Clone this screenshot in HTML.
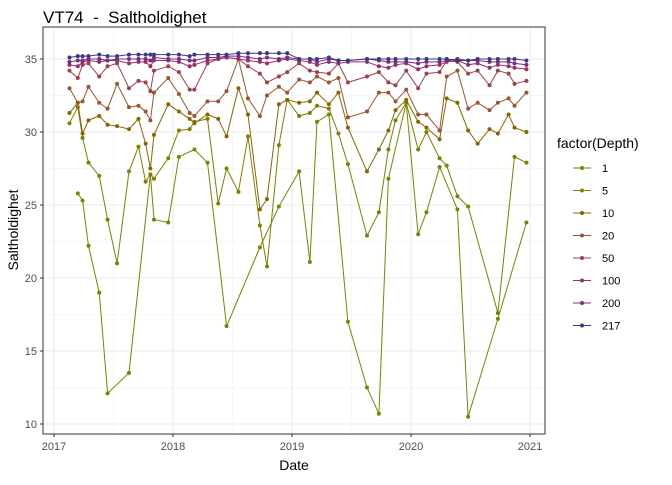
<!DOCTYPE html>
<html><head><meta charset="utf-8">
<style>
body{margin:0;background:#fff;}
svg text{font-family:"Liberation Sans",Arial,sans-serif;}
</style></head>
<body>
<svg id="chart" width="672" height="480" viewBox="0 0 672 480" xmlns="http://www.w3.org/2000/svg">
<rect width="672" height="480" fill="#fff"/>
<text x="43" y="23" font-size="17" fill="#000" style="white-space:pre">VT74  -  Saltholdighet</text>
<g id="grid"></g>
<g id="series"></g>
<rect x="43" y="27" width="502" height="407" fill="none" stroke="#333" stroke-width="1"/>
<g id="axes"></g>
<text x="294" y="470" font-size="14" text-anchor="middle" fill="#000">Date</text>
<text transform="translate(18,230) rotate(-90)" font-size="14" text-anchor="middle" fill="#000">Saltholdighet</text>
<g id="legend"></g>
</svg>
<script>
const depths = ["1","5","10","20","50","100","200","217"];
const colors = ["#6e8b00","#7f7f00","#8b6400","#9c5530","#a0404c","#95306a","#7e2a84","#3b3a7f"];
const dates = [2017.13,2017.20,2017.24,2017.29,2017.38,2017.45,2017.53,2017.63,2017.71,2017.77,2017.81,2017.84,2017.96,2018.05,2018.14,2018.18,2018.29,2018.38,2018.45,2018.55,2018.63,2018.73,2018.79,2018.89,2018.96,2019.06,2019.15,2019.21,2019.31,2019.39,2019.47,2019.63,2019.73,2019.81,2019.87,2019.96,2020.06,2020.13,2020.24,2020.30,2020.39,2020.48,2020.56,2020.66,2020.73,2020.82,2020.87,2020.97];
const d1 = [null,25.8,25.3,22.2,19.0,12.1,null,13.5,null,null,27.1,24.0,23.8,28.3,null,28.8,27.9,null,16.7,null,null,22.1,null,24.9,null,27.3,21.1,30.7,31.2,null,17.0,12.5,10.7,26.8,null,32.0,23.0,24.5,27.6,null,24.7,10.5,null,null,17.2,null,null,23.8];
const d5 = [30.6,31.7,29.6,27.9,27.0,24.0,21.0,27.3,29.0,26.6,27.1,26.8,28.2,30.1,30.2,30.7,30.9,25.1,27.5,25.9,29.7,23.6,20.8,29.1,32.2,31.1,31.3,31.8,31.6,29.9,27.8,22.9,24.5,28.8,30.8,32.0,28.8,30.0,28.2,27.7,25.6,24.9,null,null,17.6,null,28.3,27.9];
const d10 = [31.3,32.0,29.9,30.8,31.1,30.5,30.4,30.2,30.9,29.2,27.5,29.8,31.9,31.4,30.9,30.6,31.2,30.9,29.7,33.0,31.2,24.7,25.4,31.9,32.2,32.0,32.1,32.7,31.9,32.7,30.3,27.3,28.8,30.1,31.5,32.2,30.7,30.3,29.5,32.3,32.0,30.1,29.2,30.2,29.9,31.2,30.3,30.0];
const d20 = [33.0,32.0,32.1,33.1,32.0,31.6,33.3,31.7,31.8,31.4,30.8,32.7,33.7,32.6,31.3,31.1,32.1,32.1,32.8,35.0,32.3,31.1,32.5,33.1,32.7,33.6,33.4,33.8,33.4,33.7,31.0,31.4,32.7,32.7,32.1,32.9,31.2,31.2,30.1,33.8,34.2,31.6,32.0,31.5,32.0,32.3,31.8,32.7];
const d50 = [34.2,33.7,34.6,34.7,33.8,34.5,34.7,33.0,33.5,33.4,32.8,34.2,34.5,34.1,32.9,32.9,34.7,35.0,35.1,35.0,34.5,34.0,33.4,33.8,34.1,34.7,34.2,34.1,34.0,34.7,33.4,33.8,34.1,33.4,33.2,34.2,33.0,34.0,34.1,34.9,34.8,34.0,34.2,33.2,34.2,34.0,33.3,33.5];
const d100 = [34.6,34.5,34.8,34.9,34.8,34.9,34.9,34.7,34.8,34.8,34.5,34.9,34.9,34.8,34.5,34.6,34.9,35.0,35.1,35.0,34.9,34.8,34.7,34.9,35.0,34.9,34.8,34.6,34.8,34.7,34.8,34.8,34.5,34.4,34.6,34.7,34.3,34.5,34.6,34.8,34.9,34.6,34.7,34.4,34.6,34.5,34.4,34.3];
const d200 = [34.8,34.9,34.9,35.0,35.0,34.9,35.0,35.0,35.0,35.0,34.9,35.1,35.0,35.0,34.9,34.9,35.1,35.1,35.2,35.2,35.1,35.0,35.1,35.0,35.1,35.0,35.0,34.8,35.0,34.9,34.9,35.0,34.9,34.8,34.8,34.8,34.7,34.8,34.8,34.9,35.0,34.9,34.9,34.8,34.8,34.8,34.7,34.6];
const d217 = [35.1,35.2,35.2,35.2,35.3,35.2,35.2,35.3,35.3,35.3,35.3,35.3,35.3,35.3,35.2,35.3,35.3,35.3,35.3,35.4,35.4,35.4,35.4,35.4,35.4,35.0,35.0,35.0,35.1,34.9,34.9,35.0,35.0,35.0,35.0,35.0,35.0,35.0,35.0,35.0,34.9,34.9,35.0,35.0,35.0,35.0,35.0,34.9];
const seriesValues = [d1,d5,d10,d20,d50,d100,d200,d217];
const xTicks = [2017,2018,2019,2020,2021];
const yTicks = [10,15,20,25,30,35];

const NS = "http://www.w3.org/2000/svg";
function xScale(t){ return 54 + (t - 2017) * 119; }
function yScale(v){ return 59 + (35 - v) * 14.6; }
function mk(tag, attrs, parent){
  const e = document.createElementNS(NS, tag);
  for (const k in attrs) e.setAttribute(k, attrs[k]);
  parent.appendChild(e);
  return e;
}
const grid = document.getElementById("grid");
const axes = document.getElementById("axes");
for (let i = 0; i < yTicks.length - 1; i++) {
  const y = yScale((yTicks[i] + yTicks[i+1]) / 2);
  const l = mk("line", {x1:43, x2:545, y1:y, y2:y, stroke:"#f2f2f2", "stroke-width":0.6}, grid);
  
  
}
for (let i = 0; i < xTicks.length - 1; i++) {
  const x = xScale((xTicks[i] + xTicks[i+1]) / 2);
  const l = mk("line", {x1:x, x2:x, y1:27, y2:434, stroke:"#f2f2f2", "stroke-width":0.6}, grid);
  
  
}
yTicks.forEach(v => {
  const y = yScale(v);
  const l = mk("line", {x1:43, x2:545, y1:y, y2:y, stroke:"#ebebeb", "stroke-width":1.1}, grid);
  
  
  const t = mk("line", {x1:40, x2:43, y1:y, y2:y, stroke:"#333"}, axes);
  
  
  const tx = mk("text", {x:37, y:y+4, "font-size":11, "text-anchor":"end", fill:"#4d4d4d"}, axes);
  tx.textContent = v;
  
  
});
xTicks.forEach(v => {
  const x = xScale(v);
  const l = mk("line", {x1:x, x2:x, y1:27, y2:434, stroke:"#ebebeb", "stroke-width":1.1}, grid);
  
  
  const t = mk("line", {x1:x, x2:x, y1:434, y2:437, stroke:"#333"}, axes);
  
  
  const tx = mk("text", {x:x, y:450, "font-size":11, "text-anchor":"middle", fill:"#4d4d4d"}, axes);
  tx.textContent = v;
  
  
});
const sg = document.getElementById("series");
seriesValues.forEach((vals, si) => {
  const g = mk("g", {}, sg);
  
  
  const pts = [];
  vals.forEach((v, i) => { if (v !== null) pts.push([xScale(dates[i]), yScale(v)]); });
  const pl = mk("polyline", {points: pts.map(p => p[0].toFixed(1) + "," + p[1].toFixed(1)).join(" "), fill:"none", stroke:colors[si], "stroke-width":1}, g);
  
  
  pts.forEach(p => {
    const c = mk("circle", {cx:p[0], cy:p[1], r:2, fill:colors[si]}, g);
    
    
  });
});
const lg = document.getElementById("legend");
const lt = mk("text", {x:557, y:148, "font-size":14, fill:"#000"}, lg);
lt.textContent = "factor(Depth)";


depths.forEach((d, i) => {
  const y = 168 + i * 22.5;
  const g = mk("g", {}, lg);
  
  
  mk("line", {x1:573, x2:591, y1:y, y2:y, stroke:colors[i], "stroke-width":1}, g);
  mk("circle", {cx:582, cy:y, r:2, fill:colors[i]}, g);
  const t = mk("text", {x:602, y:y+4, "font-size":11, fill:"#000"}, g);
  t.textContent = d;
});
</script>
</body></html>
